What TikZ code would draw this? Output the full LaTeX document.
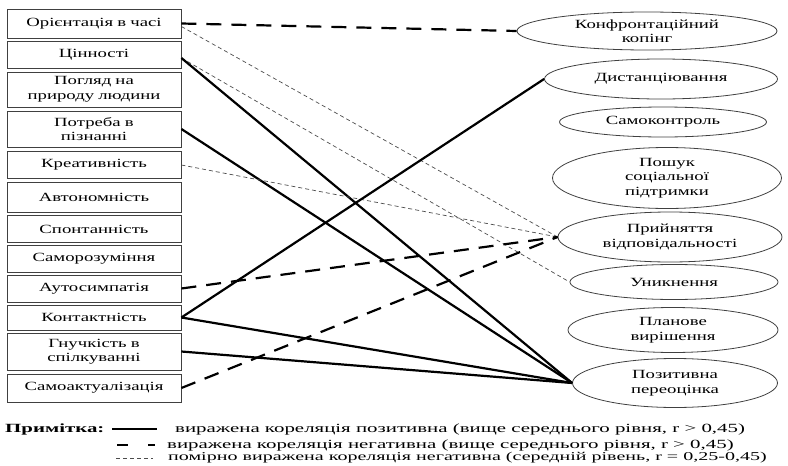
\documentclass[tikz,border=0pt]{standalone}
\usepackage{fontspec}
\setmainfont{Liberation Serif}[FakeStretch=1.5]
\newfontfamily\notefont{Liberation Serif}[FakeStretch=1.67]
\usetikzlibrary{shapes.geometric}

\begin{document}
\begin{tikzpicture}[
  x=1pt, y=-1pt,
  font=\fontsize{12.5}{14.5}\selectfont,
  trait/.style={
      draw=black!75,
      line width=0.8pt,
      text width=170pt,
      align=center,
      minimum width=174pt,
      minimum height=27pt,
      inner sep=1pt
  },
  coping/.style={
      draw=black!75,
      ellipse,
      line width=0.8pt,
      align=center,
      inner sep=0pt
  },
  note/.style={
      anchor=west,
      inner sep=0pt,
      font=\notefont\fontsize{12.5}{14.5}\selectfont
  },
  poscor/.style={line width=2.2pt},
  negcor/.style={line width=2.2pt, dash pattern=on 15pt off 10pt},
  negmod/.style={line width=0.7pt, dash pattern=on 4pt off 3pt, black!70}
]

\useasboundingbox (0,0) rectangle (788,466);

% personality traits
\node[trait, minimum height=29pt] (orient) at (94,23.5) {Орієнтація в часі};
\node[trait] (value) at (94,55) {Цінності};
\node[trait, minimum height=35pt] (nature) at (94,89.5) {Погляд на\\природу людини};
\node[trait, minimum height=36pt] (cogn) at (94,129) {Потреба в\\пізнанні};
\node[trait] (creat) at (94,165) {Креативність};
\node[trait, minimum height=30pt] (auton) at (94,197) {Автономність};
\node[trait] (spont) at (94,229) {Спонтанність};
\node[trait] (selfu) at (94,258.5) {Саморозуміння};
\node[trait] (selfs) at (94,288.5) {Аутосимпатія};
\node[trait, minimum height=25pt] (cont) at (94,317.5) {Контактність};
\node[trait, minimum height=37pt] (flex) at (94,351.5) {Гнучкість в\\спілкуванні};
\node[trait, minimum height=28pt] (actual) at (94,388) {Самоактуалізація};

% coping strategies
\node[coping, minimum width=260pt, minimum height=38pt] (conf) at (647,31) {Конфронтаційний\\копінг};
\node[coping, minimum width=233pt, minimum height=40pt] (dist) at (661,79) {Дистанціювання};
\node[coping, minimum width=207pt, minimum height=30pt] (ctrl) at (663,122) {Самоконтроль};
\node[coping, minimum width=229pt, minimum height=61pt] (supp) at (667,178) {Пошук\\соціальної\\підтримки};
\node[coping, minimum width=224pt, minimum height=50pt] (resp) at (670,237) {Прийняття\\відповідальності};
\node[coping, minimum width=208pt, minimum height=35pt] (avoid) at (674,282) {Уникнення};
\node[coping, minimum width=210pt, minimum height=45pt] (plan) at (673,330) {Планове\\вирішення};
\node[coping, minimum width=205pt, minimum height=49pt] (reap) at (675,383) {Позитивна\\переоцінка};

% correlations
\draw[negcor] (orient.east) -- (conf.west);
\draw[negmod] ([yshift=-3pt]orient.east) -- (resp.west);
\draw[negmod] ([yshift=-3pt]value.east) -- (avoid.west);
\draw[poscor] ([yshift=-3pt]value.east) -- (reap.west);
\draw[poscor] (cogn.east) -- (reap.west);
\draw[negmod] (creat.east) -- (resp.west);
\draw[negcor] (selfs.east) -- (resp.west);
\draw[poscor] (cont.east) -- (dist.west);
\draw[poscor] (cont.east) -- (reap.west);
\draw[poscor] (flex.east) -- (reap.west);
\draw[negcor] (actual.east) -- (resp.west);

% legend
\node[note] (ntitle) at (5,429) {\bfseries Примітка:};
\node[note] (n1) at (175,429) {виражена кореляція позитивна (вище середнього рівня, r > 0,45)};
\node[note] (n2) at (167,445) {виражена кореляція негативна (вище середнього рівня, r > 0,45)};
\node[note, font=\notefont\fontsize{12}{14.5}\selectfont] (n3) at (168,458) {помірно виражена кореляція негативна (середній рівень, r = 0,25-0,45)};
\draw[poscor] ([xshift=-63pt]n1.west) -- ([xshift=-18pt]n1.west);
\draw[line width=2.2pt, dash pattern=on 11pt off 20pt on 7pt] ([xshift=-50pt]n2.west) -- ([xshift=-12pt]n2.west);
\draw[negmod] ([xshift=-52pt]n3.west) -- ([xshift=-15pt]n3.west);

\end{tikzpicture}
\end{document}
